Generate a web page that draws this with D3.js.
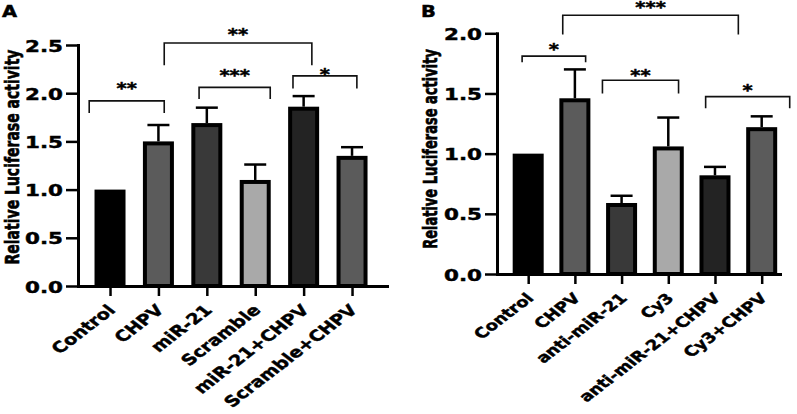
<!DOCTYPE html>
<html>
<head>
<meta charset="utf-8">
<script src="https://cdn.jsdelivr.net/npm/d3@7"></script>
<style>
  body { margin: 0; background: #fff; }
  text { font-family: "DejaVu Sans", sans-serif; font-weight: bold; fill: #000; stroke: #000; stroke-width: 0.45px; }
</style>
</head>
<body>
<div id="chart"></div>
<script>
const width = 797;
const height = 414;
const stretch = 1.3; // the figure text is widened horizontally

// panel A
const catsA = ["Control", "CHPV", "miR-21", "Scramble", "miR-21+CHPV", "Scramble+CHPV"];
const meanA = [1.00, 1.50, 1.69, 1.10, 1.86, 1.35];
const errA = [0, 0.17, 0.16, 0.16, 0.11, 0.09];
const ticksA = [0, 0.5, 1.0, 1.5, 2.0, 2.5];
// [from index, to index, line level, foot level, star level, label]
const bracketsA = [
  [-0.43, 1.12, 1.92, 1.795, 2.085, "**"],
  [1.12, 4.17, 2.52, 2.29, 2.645, "**"],
  [1.84, 3.31, 2.06, 1.94, 2.21, "***"],
  [3.78, 5.10, 2.18, 2.05, 2.23, "*"]
];

// panel B
const catsB = ["Control", "CHPV", "anti-miR-21", "Cy3", "anti-miR-21+CHPV", "Cy3+CHPV"];
const meanB = [1.00, 1.46, 0.59, 1.06, 0.82, 1.22];
const errB = [0, 0.24, 0.06, 0.24, 0.07, 0.09];
const ticksB = [0, 0.5, 1.0, 1.5, 2.0];
const bracketsB = [
  [-0.13, 1.23, 1.81, 1.76, 1.89, "*"],
  [0.74, 4.50, 2.15, 1.99, 2.236, "***"],
  [1.59, 3.22, 1.61, 1.50, 1.677, "**"],
  [3.80, 5.60, 1.474, 1.377, 1.552, "*"]
];

const shades = ["#000000", "#5b5b5b", "#393939", "#a9a9a9", "#232323", "#5b5b5b"];

const svg = d3.select('#chart')
  .append('svg')
  .attr('width', width)
  .attr('height', height);

function drawPanel(p) {
  const g = svg.append('g');

  const x = d3.scalePoint()
    .domain(p.cats)
    .range([p.left, p.right])
    .padding(p.pad)
    .align(p.align);
  const pos = i => x(p.cats[0]) + i * x.step();

  const y = d3.scaleLinear()
    .domain([0, p.ticks[p.ticks.length - 1]])
    .range([p.bottom, p.top]);

  // brackets
  p.brackets.forEach(b => {
    g.append('path')
      .attr('d', `M${pos(b[0])},${y(b[3])}V${y(b[2])}H${pos(b[1])}V${y(b[3])}`)
      .attr('fill', 'none')
      .attr('stroke', '#111')
      .attr('stroke-width', 1.6);
    g.append('text')
      .attr('transform', `translate(${(pos(b[0]) + pos(b[1])) / 2},${y(b[4]) + 8.5}) scale(${stretch},1)`)
      .attr('text-anchor', 'middle')
      .style('font-size', '15px')
      .text(b[5]);
  });

  // error bars
  p.cats.forEach((c, i) => {
    if (!p.errs[i]) return;
    const top = y(p.means[i] + p.errs[i]);
    g.append('line')
      .attr('x1', x(c)).attr('x2', x(c))
      .attr('y1', y(p.means[i])).attr('y2', top)
      .attr('stroke', '#000').attr('stroke-width', 2.5);
    g.append('line')
      .attr('x1', x(c) - 11).attr('x2', x(c) + 11)
      .attr('y1', top).attr('y2', top)
      .attr('stroke', '#000').attr('stroke-width', 2.5);
  });

  // bars (outline drawn inside the value edge)
  g.selectAll('rect.bar')
    .data(p.cats)
    .enter()
    .append('rect')
    .attr('class', 'bar')
    .attr('x', d => x(d) - 13.5)
    .attr('width', 27)
    .attr('y', (d, i) => y(p.means[i]) + 2)
    .attr('height', (d, i) => p.bottom - y(p.means[i]) - 2)
    .style('fill', (d, i) => shades[i])
    .style('stroke', '#000')
    .style('stroke-width', 4);

  // y axis
  const ya = g.append('g')
    .attr('transform', `translate(${p.left},0)`)
    .call(d3.axisLeft(y).tickValues(p.ticks).tickSize(12).tickSizeOuter(0).tickFormat(d3.format('.1f')));
  ya.select('.domain').attr('stroke-width', 3).attr('stroke-linecap', 'square');
  ya.selectAll('.tick line').attr('stroke-width', 2.5);
  ya.selectAll('.tick text')
    .attr('x', null).attr('dy', null)
    .attr('transform', `translate(-15,6) scale(${stretch},1)`)
    .attr('fill', '#000')
    .style('font-size', '16.5px')
    .style('font-family', '"DejaVu Sans", sans-serif');

  // x axis
  const xa = g.append('g')
    .attr('transform', `translate(0,${p.bottom})`)
    .call(d3.axisBottom(x).tickSize(10).tickSizeOuter(0));
  xa.select('.domain').attr('stroke-width', 3).attr('stroke-linecap', 'square');
  xa.selectAll('.tick line').attr('stroke-width', 2.5);
  xa.selectAll('.tick text')
    .attr('y', null).attr('dy', null)
    .attr('text-anchor', 'end')
    .attr('transform', `translate(6,25) scale(${stretch},1) rotate(-45)`)
    .attr('fill', '#000')
    .style('font-size', p.xfont)
    .style('font-family', '"DejaVu Sans", sans-serif');

  // axis title
  g.append('text')
    .attr('transform', `translate(${p.titleX},${p.titleY}) scale(1.45,1) rotate(-90)`)
    .attr('text-anchor', 'middle')
    .style('font-size', p.titleFont)
    .text('Relative Luciferase activity');

  // panel letter
  g.append('text')
    .attr('transform', `translate(${p.letterX},17) scale(${stretch},1)`)
    .style('font-size', '15px')
    .text(p.letter);
}

drawPanel({
  cats: catsA, means: meanA, errs: errA, ticks: ticksA, brackets: bracketsA,
  left: 78, right: 387, top: 45, bottom: 286, pad: 0.692, align: 0.478,
  xfont: '15px', titleFont: '14px', titleX: 19, titleY: 157, letter: 'A', letterX: 2
});

drawPanel({
  cats: catsB, means: meanB, errs: errB, ticks: ticksB, brackets: bracketsB,
  left: 497, right: 780, top: 33.3, bottom: 274, pad: 0.53, align: 0.63,
  xfont: '14px', titleFont: '13px', titleX: 437, titleY: 149, letter: 'B', letterX: 421
});
</script>
</body>
</html>
